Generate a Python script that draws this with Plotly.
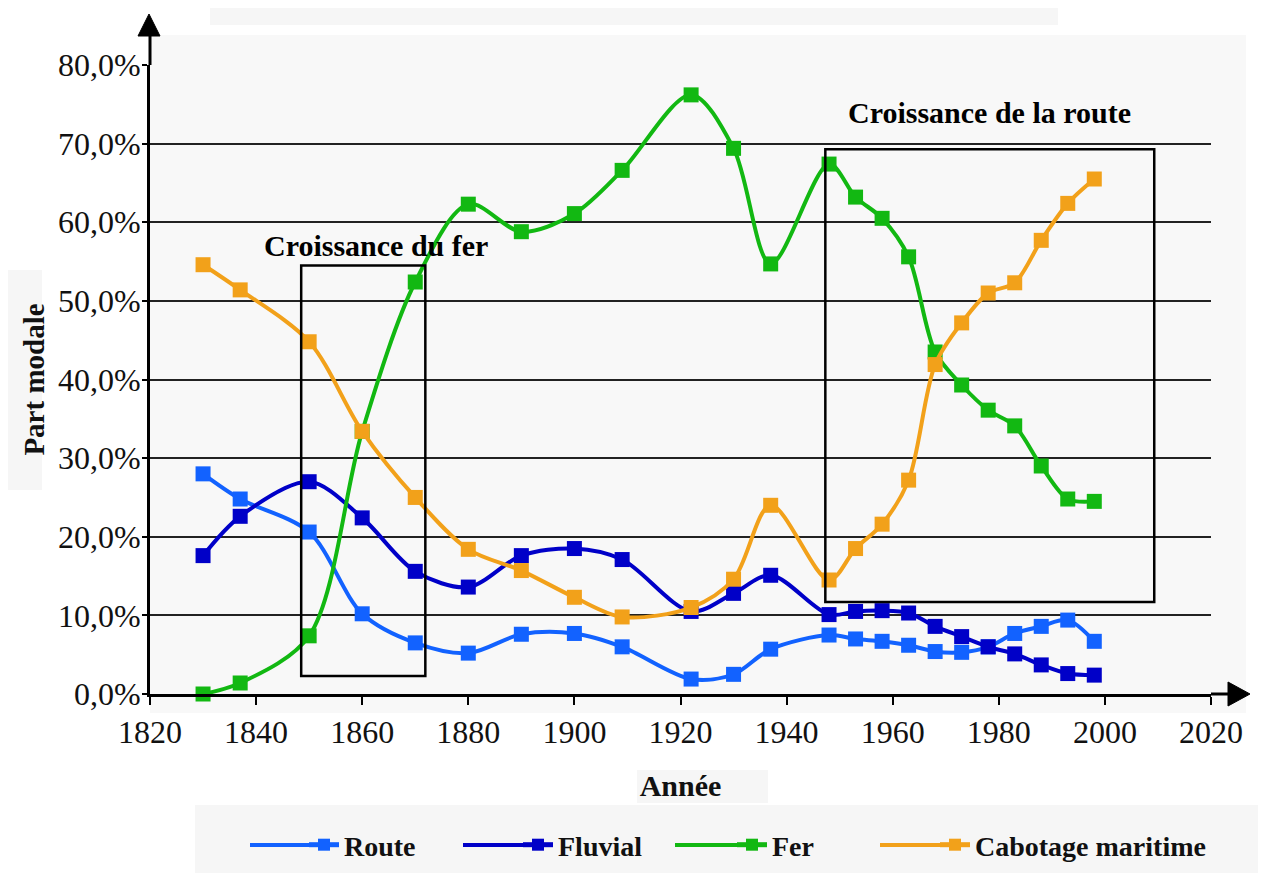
import plotly.graph_objects as go

# ---- data ----
years = [1830, 1837, 1850, 1860, 1870, 1880, 1890, 1900, 1909, 1922, 1930, 1937,
         1948, 1953, 1958, 1963, 1968, 1973, 1978, 1983, 1988, 1993, 1998]
route = [28.0, 24.8, 20.6, 10.2, 6.5, 5.2, 7.6, 7.7, 6.0, 1.9, 2.5, 5.7,
         7.5, 7.0, 6.7, 6.2, 5.4, 5.3, 6.0, 7.7, 8.6, 9.4, 6.7]
fluvial = [17.6, 22.6, 27.0, 22.4, 15.6, 13.6, 17.6, 18.5, 17.1, 10.5, 12.8, 15.1,
           10.1, 10.5, 10.6, 10.3, 8.6, 7.3, 6.0, 5.1, 3.7, 2.6, 2.4]
fer = [0.0, 1.4, 7.4, 33.4, 52.4, 62.3, 58.8, 61.1, 66.6, 76.2, 69.4, 54.7,
       67.4, 63.2, 60.5, 55.6, 43.5, 39.3, 36.1, 34.1, 29.0, 24.8, 24.5]
cabotage = [54.6, 51.4, 44.8, 33.4, 25.0, 18.4, 15.7, 12.3, 9.8, 11.0, 14.6, 24.0,
            14.5, 18.5, 21.6, 27.2, 41.9, 47.2, 51.0, 52.3, 57.7, 62.4, 65.5]

series_names = ["Route", "Fluvial", "Fer", "Cabotage maritime"]
series_colors = ["#1262ff", "#0000c8", "#12b812", "#f2a11a"]
series_legend = ["legend", "legend", "legend", "legend2"]

x_ticks = [1820, 1840, 1860, 1880, 1900, 1920, 1940, 1960, 1980, 2000, 2020]
y_ticks = [0, 10, 20, 30, 40, 50, 60, 70, 80]
y_ticklabels = ["0,0%", "10,0%", "20,0%", "30,0%", "40,0%", "50,0%", "60,0%", "70,0%", "80,0%"]

# highlighted periods (x0, x1, y0, y1) and their labels
box_fer = [1848.5, 1871.9, 2.3, 54.5]
box_route = [1947.3, 2009.3, 11.7, 69.3]
label_fer = ("Croissance du fer", 1862.6, 57.1)
label_route = ("Croissance de la route", 1978.3, 73.9)

FONT = "Liberation Serif"
OFF = 8  # page body margin: figure is drawn 8px right/down of the window corner
W, H = 1266 - OFF, 873 - OFF
L = 150 - OFF
T = 65 - OFF
B = H - (694 - OFF)
R = W - (1211 - OFF)
pw = W - L - R
ph = H - T - B


def px_x(p):
    """reference window pixel x -> paper fraction"""
    return (p - OFF - L) / pw


def px_y(p):
    """reference window pixel y -> paper fraction"""
    return (H - B - (p - OFF)) / ph


fig = go.Figure()
for name, vals, col, lg in zip(series_names, [route, fluvial, fer, cabotage],
                               series_colors, series_legend):
    fig.add_trace(go.Scatter(
        x=years, y=vals, name=name, mode="lines+markers", legend=lg,
        line=dict(color=col, width=4, shape="spline", smoothing=0.9),
        marker=dict(symbol="square", size=15, color=col),
        cliponaxis=False,
    ))

shapes = []
# background panels
shapes.append(dict(type="rect", xref="paper", yref="paper", layer="below",
                   x0=px_x(150), x1=px_x(1246), y0=px_y(713), y1=px_y(35),
                   fillcolor="#f8f8f8", line=dict(width=0)))
shapes.append(dict(type="rect", xref="paper", yref="paper", layer="below",
                   x0=px_x(195), x1=px_x(1266), y0=px_y(873), y1=px_y(805),
                   fillcolor="#f6f6f6", line=dict(width=0)))
shapes.append(dict(type="rect", xref="paper", yref="paper", layer="below",
                   x0=px_x(210), x1=px_x(1058), y0=px_y(25), y1=px_y(8),
                   fillcolor="#f6f6f6", line=dict(width=0)))
shapes.append(dict(type="rect", xref="paper", yref="paper", layer="below",
                   x0=px_x(8), x1=px_x(42), y0=px_y(490), y1=px_y(270),
                   fillcolor="#f6f6f6", line=dict(width=0)))
shapes.append(dict(type="rect", xref="paper", yref="paper", layer="below",
                   x0=px_x(637), x1=px_x(768), y0=px_y(803), y1=px_y(770),
                   fillcolor="#f6f6f6", line=dict(width=0)))
# longer legend swatch lines (reference legend uses long line samples)
legend_line_starts = [250, 463, 675, 880]
for sx, col in zip(legend_line_starts, series_colors):
    shapes.append(dict(type="line", xref="paper", yref="paper",
                       x0=px_x(sx), x1=px_x(sx + 65), y0=px_y(845), y1=px_y(845),
                       line=dict(color=col, width=4)))
# axis extensions with arrow heads
shapes.append(dict(type="line", xref="paper", yref="paper",
                   x0=0, x1=0, y0=1, y1=px_y(34),
                   line=dict(color="black", width=3)))
shapes.append(dict(type="path", xref="paper", yref="paper",
                   path=f"M {px_x(138)} {px_y(36)} L {px_x(149)} {px_y(14)} L {px_x(160)} {px_y(36)} Z",
                   fillcolor="black", line=dict(color="black", width=1)))
shapes.append(dict(type="line", xref="paper", yref="paper",
                   x0=1, x1=px_x(1230), y0=0, y1=0,
                   line=dict(color="black", width=3)))
shapes.append(dict(type="path", xref="paper", yref="paper",
                   path=f"M {px_x(1228)} {px_y(682)} L {px_x(1250)} {px_y(694)} L {px_x(1228)} {px_y(706)} Z",
                   fillcolor="black", line=dict(color="black", width=1)))
# highlight boxes
for bx in (box_fer, box_route):
    shapes.append(dict(type="rect", xref="x", yref="y",
                       x0=bx[0], x1=bx[1], y0=bx[2], y1=bx[3],
                       line=dict(color="black", width=2.5), layer="above"))

annotations = []
for txt, ax_, ay_ in (label_fer, label_route):
    annotations.append(dict(x=ax_, y=ay_, xref="x", yref="y", text=f"<b>{txt}</b>",
                            showarrow=False, font=dict(family=FONT, size=30, color="black")))

legend_font = dict(family=FONT, size=28, color="#111", weight="bold")
fig.update_layout(
    width=W, height=H,
    margin=dict(l=L, r=R, t=T, b=B, autoexpand=False),
    paper_bgcolor="white", plot_bgcolor="rgba(0,0,0,0)",
    font=dict(family=FONT, size=31, color="#111"),
    shapes=shapes, annotations=annotations,
    showlegend=True,
    legend=dict(orientation="h", x=px_x(304), y=px_y(845), yanchor="middle", xanchor="left",
                font=legend_font, entrywidth=169, entrywidthmode="pixels",
                bgcolor="rgba(0,0,0,0)", itemsizing="constant"),
    legend2=dict(orientation="h", x=px_x(935), y=px_y(845), yanchor="middle", xanchor="left",
                 font=legend_font, bgcolor="rgba(0,0,0,0)", itemsizing="constant"),
)
fig.update_xaxes(
    range=[1820, 2020], tickvals=x_ticks, ticktext=[str(v) for v in x_ticks],
    showline=True, linecolor="black", linewidth=3, automargin=False,
    ticks="outside", ticklen=8, tickwidth=2, tickcolor="black",
    showgrid=False, zeroline=False,
    tickfont=dict(family=FONT, size=32, color="#111"),
    title=dict(text="<b>Année</b>", font=dict(family=FONT, size=30, color="#111"), standoff=26),
)
fig.update_yaxes(
    range=[0, 80], tickvals=y_ticks, ticktext=y_ticklabels,
    showline=True, linecolor="black", linewidth=3, automargin=False,
    ticks="outside", ticklen=5, tickwidth=2, tickcolor="black",
    ticklabelstandoff=-5,
    showgrid=True, gridcolor="#222", gridwidth=1.8, zeroline=False,
    tickfont=dict(family=FONT, size=32, color="#111"),
    title=dict(text="<b>Part modale</b>", font=dict(family=FONT, size=29, color="#111"), standoff=5),
)

fig.write_html("out.html")
